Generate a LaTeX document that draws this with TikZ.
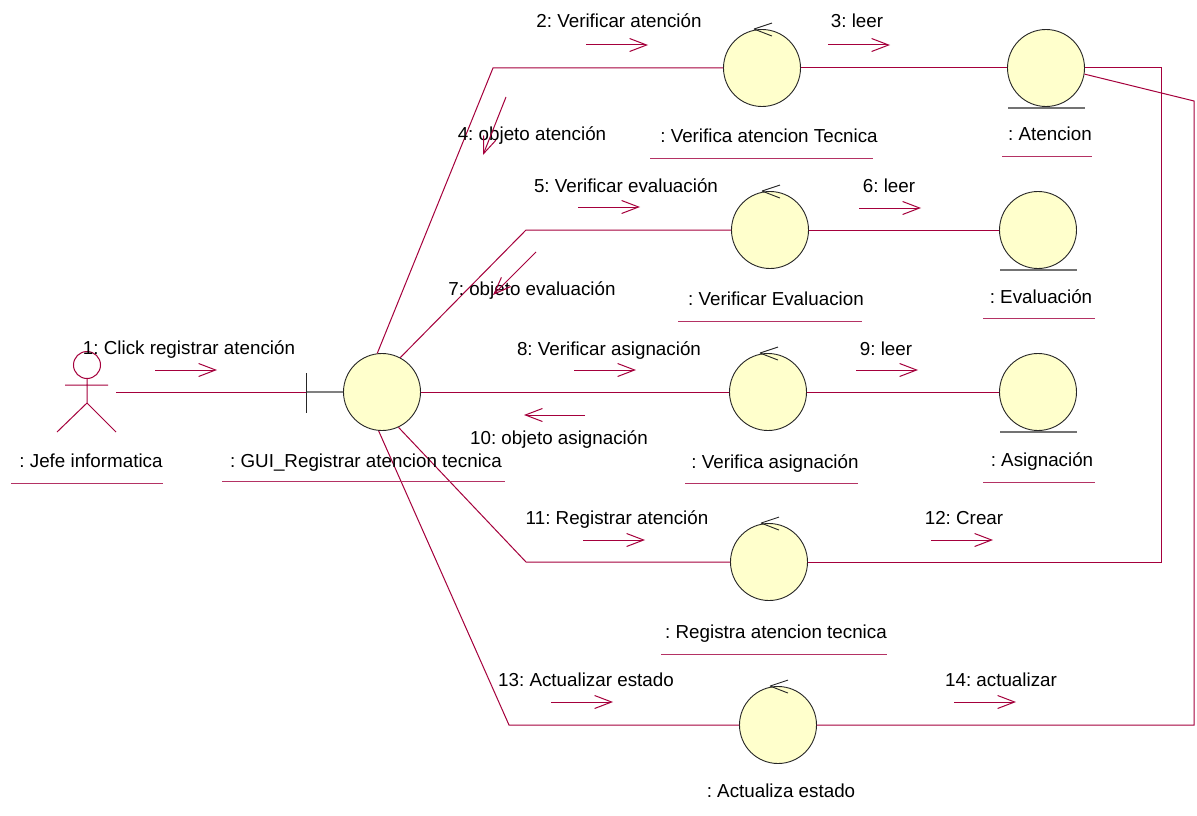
\documentclass[tikz,border=0pt]{standalone}
\usepackage{fontspec}
\setmainfont{Liberation Sans}
\frenchspacing
\usetikzlibrary{arrows.meta,calc}
\definecolor{linkc}{RGB}{165,0,60}
\definecolor{ulc}{RGB}{180,50,100}
\definecolor{objfill}{RGB}{255,255,204}
\begin{document}
\begin{tikzpicture}[x=1pt,y=-1pt,
  link/.style={draw=linkc,line width=1pt},
  obj/.style={circle,draw=black!85,fill=objfill,line width=0.9pt,minimum size=77pt,inner sep=0pt},
  txt/.style={font=\fontsize{18.8}{22}\selectfont,anchor=base,inner sep=0pt},
  uline/.style={draw=ulc,line width=1pt},
  msg/.style={draw=linkc,line width=1pt,-{Straight Barb[length=17pt,width=13pt,line width=1pt]}},
  ctrlmark/.style={draw=black!85,line width=0.9pt},
  entbase/.style={draw=black!55,line width=1.2pt},
]
\useasboundingbox[fill=white] (0,0) rectangle (1197,816);

% objects
\node[obj] (gui) at (382,392) {};
\node[obj] (c1) at (762,68) {};
\node[obj] (c2) at (770,230) {};
\node[obj] (c3) at (768,392) {};
\node[obj] (c4) at (769,562) {};
\node[obj] (c5) at (778,725) {};
\node[obj] (e1) at (1046,68) {};
\node[obj] (e2) at (1038,230) {};
\node[obj] (e3) at (1038,392) {};

% bend points of the links
\coordinate (b1) at (493,68);
\coordinate (b2) at (526,230);
\coordinate (b4) at (526,562);
\coordinate (b5) at (509,725);
\coordinate (k1) at (1161,562);
\coordinate (k2) at (1161,68);
\coordinate (k3) at (1194,725);
\coordinate (k4) at (1194,101);
\coordinate (act) at (116,392);
\coordinate (bnd) at (306,392);

% links
\draw[link] (gui.97) -- (b1) -- (c1);
\draw[link] (gui.62) -- (b2) -- (c2);
\draw[link] (gui) -- (c3);
\draw[link] (gui.-65) -- (b4) -- (c4);
\draw[link] (gui.-95) -- (b5) -- (c5);
\draw[link] (c1) -- (e1);
\draw[link] (c2) -- (e2);
\draw[link] (c3) -- (e3);
\draw[link] (c4) -- (k1) -- (k2) -- (e1);
\draw[link] (c5) -- (k3) -- (k4) -- (e1.-9);

% actor link and boundary symbol
\draw[link] (act) -- (bnd);
\draw[draw=black!50,line width=1.2pt] (bnd) -- (gui.west);
\draw[draw=black!85,line width=1pt] (306,373) -- (306,413);

% actor
\draw[draw=linkc,line width=1pt] (87,365) circle (13.5);
\draw[draw=linkc,line width=1pt] (65,385) -- (108,385)
  (87,378.5) -- (87,403) (57,432) -- (87,403) -- (116,432);

% control markers
\foreach \c in {c1,c2,c3,c4,c5}{
  \draw[ctrlmark] ($(\c.north)+(-8,0)$) -- ++(18,-6)
                  ($(\c.north)+(-8,0)$) -- ++(18,7);
}
% entity base lines
\foreach \e in {e1,e2,e3}{
  \draw[entbase] ($(\e.south)+(-38,1)$) -- ($(\e.south)+(39,1)$);
}

% object labels
\node[txt] (lact) at (91,467) {: Jefe informatica};
\draw[uline] (11,483) -- (163,483);
\node[txt] (lgui) at (366,467) {: GUI\_Registrar atencion tecnica};
\draw[uline] (222,481) -- (505,481);
\node[txt] (lc1) at (769,142) {: Verifica atencion Tecnica};
\draw[uline] (650,158) -- (873,158);
\node[txt] (le1) at (1050,140) {: Atencion};
\draw[uline] (1002,156) -- (1092,156);
\node[txt] (lc2) at (776,305) {: Verificar Evaluacion};
\draw[uline] (678,321) -- (862,321);
\node[txt] (le2) at (1041,303) {: Evaluación};
\draw[uline] (983,318) -- (1095,318);
\node[txt] (lc3) at (775,468) {: Verifica asignación};
\draw[uline] (685,483) -- (858,483);
\node[txt] (le3) at (1042,466) {: Asignación};
\draw[uline] (983,482) -- (1095,482);
\node[txt] (lc4) at (776,638) {: Registra atencion tecnica};
\draw[uline] (661,654) -- (887,654);
\node[txt] (lc5) at (781,797) {: Actualiza estado};

% messages
\node[txt] (m1) at (189,354) {1: Click registrar atención};
\draw[msg] (155,370) -- (217,370);
\node[txt] (m2) at (619,28) {2: Verificar atención};
\draw[msg] (586,45) -- (648,45);
\node[txt] (m3) at (857,28) {3: leer};
\draw[msg] (828,45) -- (890,45);
\node[txt] (m4) at (532,140) {4: objeto atención};
\draw[msg] (506,97) -- (483,155);
\node[txt] (m5) at (626,192) {5: Verificar evaluación};
\draw[msg] (578,207) -- (640,207);
\node[txt] (m6) at (889,192) {6: leer};
\draw[msg] (859,208) -- (921,208);
\node[txt] (m7) at (532,295) {7: objeto evaluación};
\draw[msg] (536,252) -- (493,295);
\node[txt] (m8) at (609,355) {8: Verificar asignación};
\draw[msg] (574,370) -- (636,370);
\node[txt] (m9) at (886,355) {9: leer};
\draw[msg] (856,370) -- (918,370);
\node[txt] (m10) at (559,444) {10: objeto asignación};
\draw[msg] (585,415) -- (524,415);
\node[txt] (m11) at (617,524) {11: Registrar atención};
\draw[msg] (583,540) -- (645,540);
\node[txt] (m12) at (964,524) {12: Crear};
\draw[msg] (931,540) -- (993,540);
\node[txt] (m13) at (586,686) {13: Actualizar estado};
\draw[msg] (551,702) -- (613,702);
\node[txt] (m14) at (1001,686) {14: actualizar};
\draw[msg] (954,702) -- (1016,702);
\end{tikzpicture}
\end{document}
